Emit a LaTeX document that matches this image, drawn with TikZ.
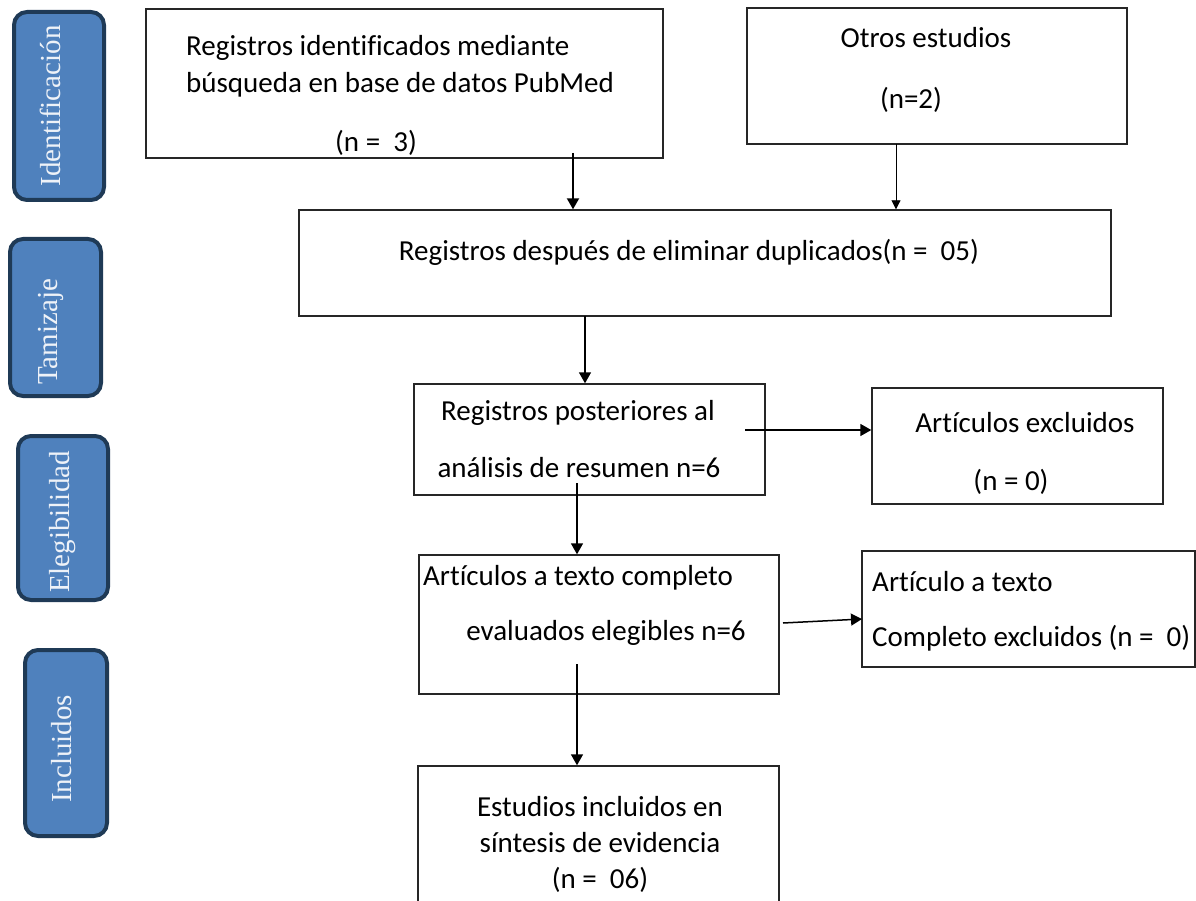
\documentclass[tikz,border=0pt]{standalone}
\usepackage{fontspec}
\setmainfont{Carlito}[Ligatures=CommonOff]
\newfontfamily\sidefont{Liberation Serif}
\usetikzlibrary{arrows.meta,positioning}
\definecolor{barblue}{HTML}{4F81BD}
\definecolor{bardark}{HTML}{1F3A56}
\definecolor{bartext}{HTML}{EEF2F8}

\begin{document}
\begin{tikzpicture}[x=1pt,y=-1pt,
    box/.style={draw=black!85,line width=1.4pt,inner sep=0pt},
    bar/.style={draw=bardark,fill=barblue,line width=4pt,rounded corners=13pt,inner sep=0pt},
    bartxt/.style={rotate=90,anchor=mid,text=bartext,inner sep=0pt,font=\sidefont\fontsize{29}{34}\selectfont},
    txt/.style={inner sep=0pt,font=\fontsize{29}{34}\selectfont},
    arr/.style={-{Triangle[width=12pt,length=11pt]},line width=1.5pt}]
  \useasboundingbox (0,0) rectangle (1196,901);

  \node [bar, minimum width=90pt, minimum height=188pt] (idbar) at (59,106) {};
  \node [bar, minimum width=91pt, minimum height=157pt] (tambar) at (55.5,317.5) {};
  \node [bar, minimum width=90pt, minimum height=164pt] (elebar) at (63,518) {};
  \node [bar, minimum width=82pt, minimum height=186pt] (incbar) at (66,743) {};
  \node [bartxt] (idtxt) at (58,106) {Identificación};
  \node [bartxt] (tamtxt) at (55,332) {Tamizaje};
  \node [bartxt] (eletxt) at (67,522) {Elegibilidad};
  \node [bartxt] (inctxt) at (69,749) {Incluidos};

  \node [box, minimum width=517pt, minimum height=149pt] (pubmed) at (404.5,83.5) {};
  \node [box, minimum width=380pt, minimum height=136pt] (otros) at (937,76) {};
  \node [box, minimum width=812pt, minimum height=106pt] (dupl) at (705,263) {};
  \node [box, minimum width=351pt, minimum height=111pt] (resumen) at (589.5,439.5) {};
  \node [box, minimum width=291pt, minimum height=116pt] (excl) at (1017.5,446) {};
  \node [box, minimum width=360pt, minimum height=139pt] (eleg) at (599,624.5) {};
  \node [box, minimum width=333pt, minimum height=116pt] (exclcomp) at (1028.5,609) {};
  \node [box, minimum width=361pt, minimum height=149pt] (incl) at (598.5,840.5) {};

  \node [txt, anchor=west] (pubmed1) at (186,48) {Registros identificados mediante};
  \node [txt, anchor=west] (pubmed2) at (186,85) {búsqueda en base de datos PubMed};
  \node [txt] (pubmedn) at (376,143) {(n =\ \ 3)};
  \node [txt] (otros1) at (926,38) {Otros estudios};
  \node [txt] (otrosn) at (911,100) {(n=2)};
  \node [txt] (dupl1) at (689,252) {Registros después de eliminar duplicados(n =\ \ 05)};
  \node [txt] (resumen1) at (578,413) {Registros posteriores al};
  \node [txt] (resumen2) at (579,468) {análisis de resumen n=6};
  \node [txt] (excl1) at (1025,423) {Artículos excluidos};
  \node [txt] (excln) at (1011,482) {(n = 0)};
  \node [txt, anchor=west] (eleg1) at (423,578) {Artículos a texto completo};
  \node [txt] (eleg2) at (606,633) {evaluados elegibles n=6};
  \node [txt, anchor=west] (exclcomp1) at (872,582) {Artículo a texto};
  \node [txt, anchor=west] (exclcomp2) at (872,638) {Completo excluidos (n =\ \ 0)};
  \node [txt] (incl1) at (600,807) {Estudios incluidos en};
  \node [txt] (incl2) at (600,843) {síntesis de evidencia};
  \node [txt] (incln) at (600,880) {(n =\ \ 06)};

  \coordinate (s1) at (573,153);
  \coordinate (s2) at (896,144);
  \coordinate (s3) at (585,316);
  \coordinate (s4) at (577,483);
  \coordinate (s5) at (745,430);
  \coordinate (s6) at (783,623);
  \coordinate (e6) at (862,619);
  \coordinate (s7) at (577,664);

  \draw [arr, line width=2pt] (s1) -- (s1 |- dupl.north);
  \draw [-{Triangle[width=9pt,length=9pt]}, line width=0.9pt] (s2) -- (s2 |- dupl.north);
  \draw [arr] (s3) -- (s3 |- resumen.north);
  \draw [arr] (s4) -- (s4 |- eleg.north);
  \draw [arr] (s5) -- (s5 -| excl.west);
  \draw [arr] (s6) -- (e6);
  \draw [arr] (s7) -- (s7 |- incl.north);
\end{tikzpicture}
\end{document}
